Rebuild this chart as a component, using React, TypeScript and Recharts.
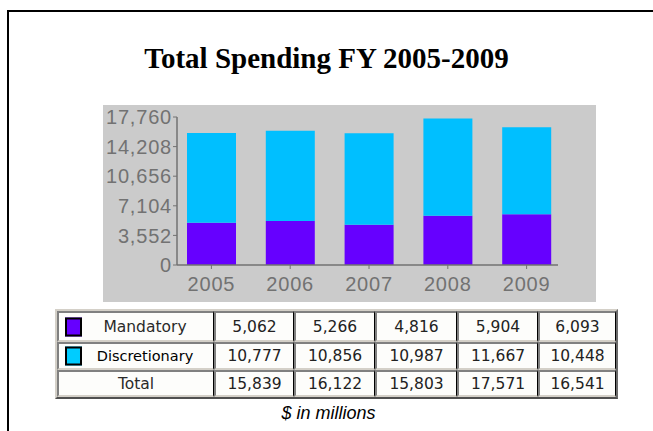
import React from "react";
import { BarChart, Bar, XAxis, YAxis } from "recharts";

// values
const years = ["2005", "2006", "2007", "2008", "2009"];
const mandatory = [5062, 5266, 4816, 5904, 6093];
const discretionary = [10777, 10856, 10987, 11667, 10448];
const totals = [15839, 16122, 15803, 17571, 16541];
const yTicks = [0, 3552, 7104, 10656, 14208, 17760];

const MANDATORY_COLOR = "#6600ff";
const DISCRETIONARY_COLOR = "#00bfff";
const AXIS_GRAY = "#727272";

const chartData = years.map((year, i) => ({
  year,
  mandatory: mandatory[i],
  discretionary: discretionary[i],
}));

const fmt = (n: number) => n.toLocaleString("en-US");

// widths of the table columns (label column + one per year)
const colWidths = [157, 80, 81, 82, 81, 78];
const rowHeights = [27, 24, 23];

const cellBase: React.CSSProperties = {
  boxSizing: "border-box",
  borderTop: "2px solid #808080",
  borderLeft: "2px solid #808080",
  borderBottom: "2px solid #d4d0c8",
  borderRight: "1px solid #000",
  background: "#fdfdfb",
  display: "flex",
  alignItems: "center",
  justifyContent: "center",
  fontFamily: "'DejaVu Sans', Verdana, sans-serif",
  fontSize: 15.5,
  color: "#222",
  position: "relative",
};

function Swatch({ color }: { color: string }) {
  return (
    <div
      style={{
        position: "absolute",
        left: 6,
        top: "50%",
        transform: "translateY(-50%)",
        width: 13,
        height: 15,
        background: color,
        border: "2px solid #000",
      }}
    />
  );
}

function DataTable() {
  const rows = [
    { label: "Mandatory", values: mandatory, swatch: MANDATORY_COLOR },
    { label: "Discretionary", values: discretionary, swatch: "#00ccff" },
    { label: "Total", values: totals, swatch: null },
  ];

  return (
    <div
      style={{
        position: "absolute",
        left: 55,
        top: 309,
        borderTop: "2px solid #d4d0c8",
        borderLeft: "2px solid #d4d0c8",
        borderBottom: "2px solid #505050",
        borderRight: "2px solid #6a6a6a",
        background: "#d4d0c8",
      }}
    >
      {rows.map((row, r) => (
        <div key={row.label} style={{ display: "flex" }}>
          <div
            style={{
              ...cellBase,
              width: colWidths[0],
              height: rowHeights[r] + 4,
              paddingLeft: row.swatch ? 18 : 0,
              fontSize: row.label === "Discretionary" ? 14.5 : 15.5,
              color: row.label === "Discretionary" ? "#000" : "#2a2a2a",
            }}
          >
            {row.swatch && <Swatch color={row.swatch} />}
            {row.label}
          </div>
          {row.values.map((v, c) => (
            <div
              key={c}
              style={{ ...cellBase, width: colWidths[c + 1], height: rowHeights[r] + 4 }}
            >
              {fmt(v)}
            </div>
          ))}
        </div>
      ))}
    </div>
  );
}

export default function App() {
  const tickStyle = {
    fontSize: 20,
    fill: AXIS_GRAY,
    fontFamily: "'Liberation Sans', Arial, sans-serif",
    letterSpacing: 0.8,
  };

  return (
    <div
      style={{
        position: "absolute",
        left: 0,
        top: 0,
        width: 653,
        height: 431,
        overflow: "hidden",
        background: "#fff",
      }}
    >
      {/* frame */}
      <div
        style={{
          position: "absolute",
          left: 7,
          top: 10,
          width: 700,
          height: 500,
          border: "2px solid #000",
        }}
      />

      {/* title */}
      <div
        style={{
          position: "absolute",
          left: 0,
          top: 44,
          width: 653,
          textAlign: "center",
          fontFamily: "'Liberation Serif', 'Times New Roman', serif",
          fontWeight: "bold",
          fontSize: 29,
          lineHeight: "28px",
          color: "#000",
        }}
      >
        Total Spending FY 2005-2009
      </div>

      {/* chart */}
      <div
        style={{
          position: "absolute",
          left: 103,
          top: 105,
          width: 493,
          height: 197,
          background: "#cbcbcb",
        }}
      >
        <BarChart
          width={493}
          height={197}
          data={chartData}
          margin={{ top: 12, right: 38, left: 0, bottom: 0 }}
        >
          <XAxis
            dataKey="year"
            height={37}
            padding={{ left: -5, right: -8 }}
            tick={tickStyle}
            tickSize={4}
            tickMargin={8}
            axisLine={{ stroke: AXIS_GRAY, strokeWidth: 1.5 }}
            tickLine={{ stroke: AXIS_GRAY }}
          />
          <YAxis
            width={74}
            domain={[0, 17760]}
            ticks={yTicks}
            tickFormatter={fmt}
            tick={tickStyle}
            tickSize={4}
            tickMargin={1}
            axisLine={{ stroke: AXIS_GRAY, strokeWidth: 1.5 }}
            tickLine={{ stroke: AXIS_GRAY }}
          />
          <Bar
            dataKey="mandatory"
            stackId="a"
            fill={MANDATORY_COLOR}
            barSize={49}
            isAnimationActive={false}
          />
          <Bar
            dataKey="discretionary"
            stackId="a"
            fill={DISCRETIONARY_COLOR}
            barSize={49}
            isAnimationActive={false}
          />
        </BarChart>
      </div>

      <DataTable />

      {/* footnote */}
      <div
        style={{
          position: "absolute",
          left: 2,
          top: 404,
          width: 653,
          textAlign: "center",
          fontFamily: "'Liberation Sans', Arial, sans-serif",
          fontStyle: "italic",
          fontSize: 18,
          lineHeight: "18px",
          color: "#000",
        }}
      >
        $ in millions
      </div>
    </div>
  );
}
